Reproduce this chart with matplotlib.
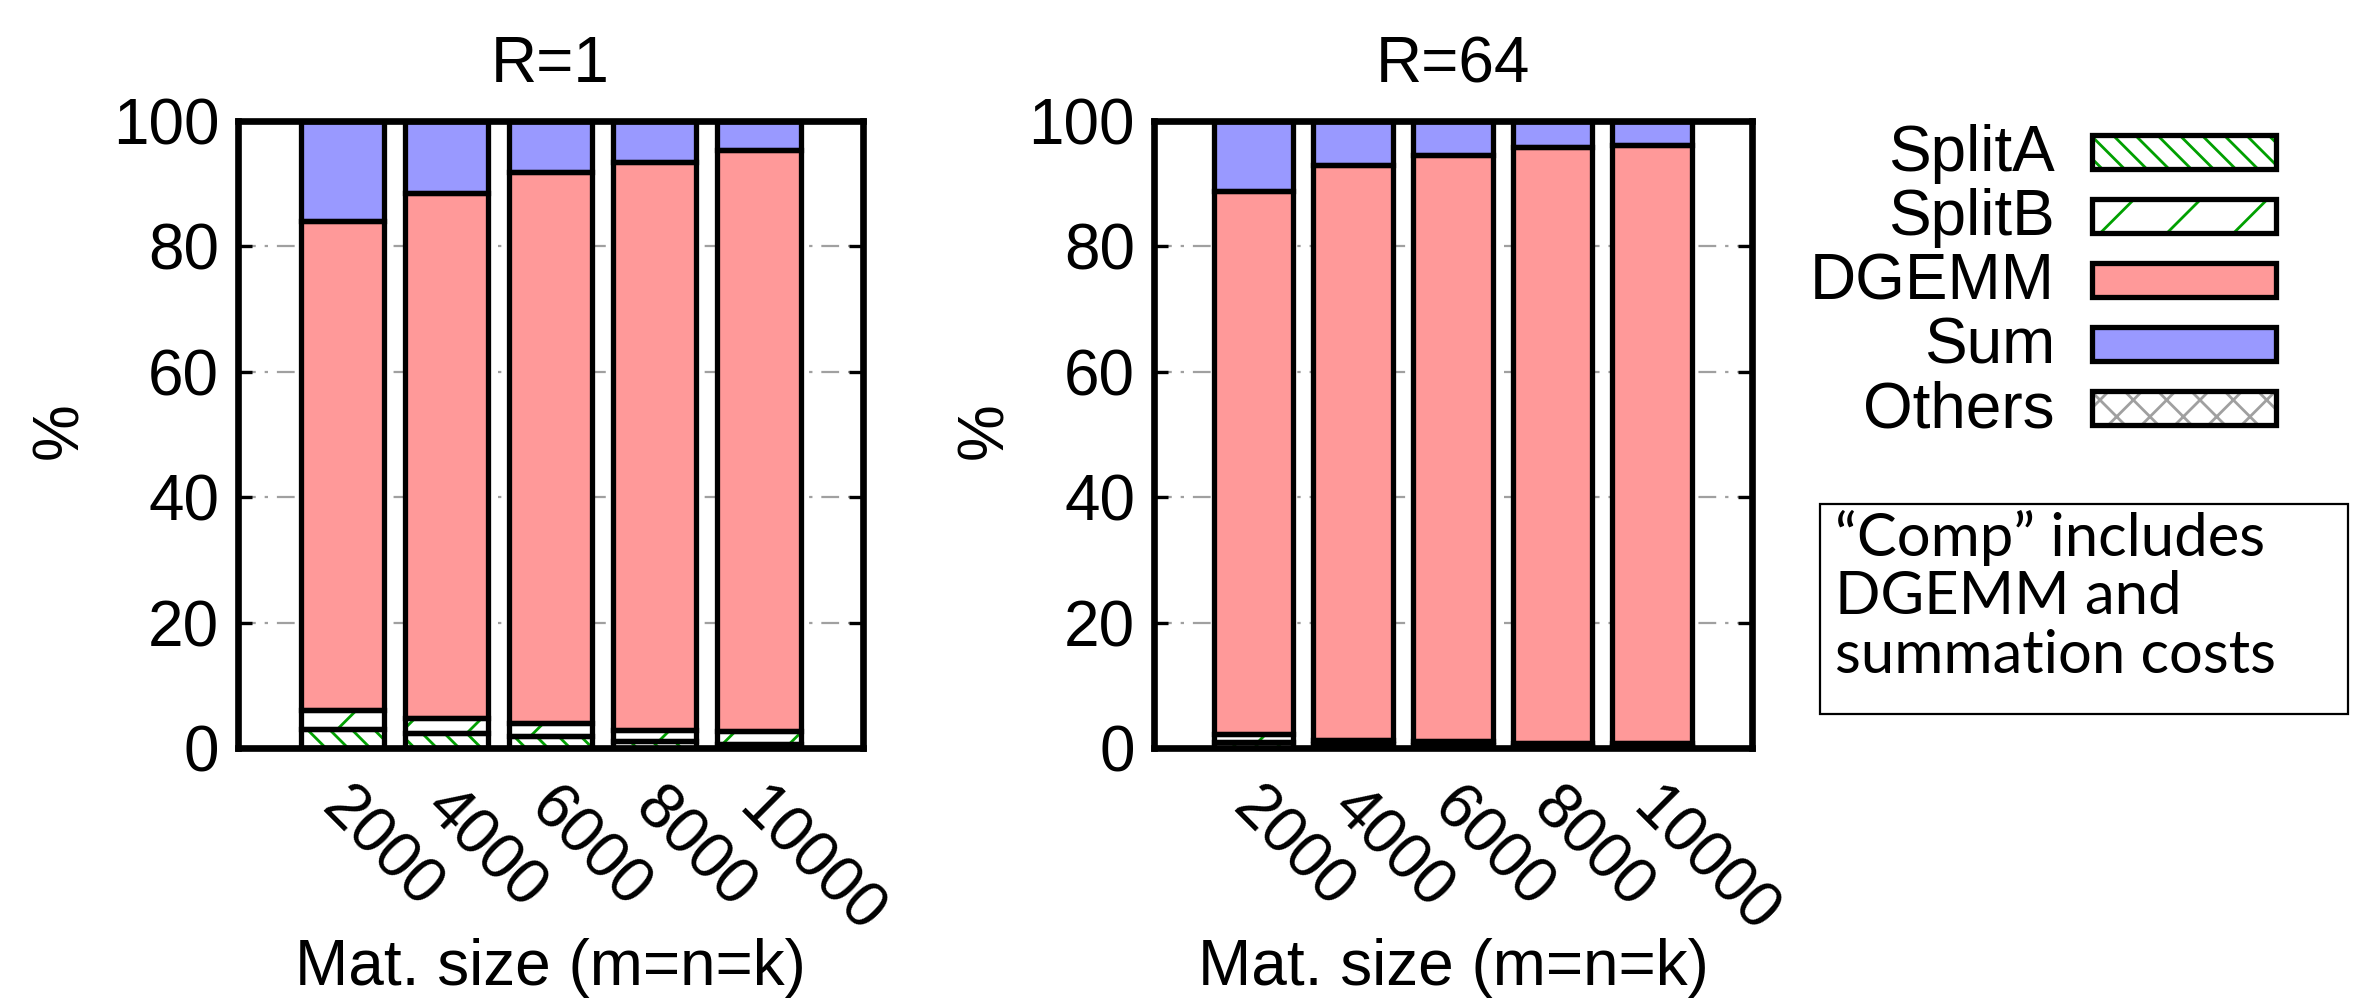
import numpy as np
import matplotlib
matplotlib.use("Agg")
import matplotlib.pyplot as plt
from matplotlib.patches import Rectangle
from matplotlib.transforms import ScaledTranslation

plt.rcParams['font.family'] = ['Liberation Sans', 'DejaVu Sans']
plt.rcParams['hatch.linewidth'] = 1.0

# Data (percent of run time)
sizes = ["2000", "4000", "6000", "8000", "10000"]
series = ["SplitA", "SplitB", "DGEMM", "Sum", "Others"]

r1_splita = [3.0, 2.4, 1.9, 1.2, 0.7]
r1_splitb = [3.1, 2.4, 2.1, 1.7, 2.0]
r1_dgemm = [78.0, 83.8, 87.8, 90.5, 92.6]
r1_sum = [15.9, 11.4, 8.2, 6.6, 4.7]
r1_others = [0.0, 0.0, 0.0, 0.0, 0.0]

r64_splita = [0.9, 0.6, 0.5, 0.4, 0.35]
r64_splitb = [1.3, 0.7, 0.6, 0.45, 0.4]
r64_dgemm = [86.7, 91.7, 93.5, 95.05, 95.45]
r64_sum = [11.1, 7.0, 5.4, 4.1, 3.8]
r64_others = [0.0, 0.0, 0.0, 0.0, 0.0]

panels = [
    ("R=1", [r1_splita, r1_splitb, r1_dgemm, r1_sum, r1_others]),
    ("R=64", [r64_splita, r64_splitb, r64_dgemm, r64_sum, r64_others]),
]

# face colour, hatch, hatch colour
styles = {
    "SplitA": ("white", "\\\\\\", "#00a000"),
    "SplitB": ("white", "/", "#00a000"),
    "DGEMM": ("#ff9999", None, "#ff9999"),
    "Sum": ("#9999ff", None, "#9999ff"),
    "Others": ("white", "xx", "#a0a0a0"),
}

W, H, DPI = 2371, 1001, 200
fig = plt.figure(figsize=(W / DPI, H / DPI), dpi=DPI)

axes_rects = [[0.1004, 0.2527, 0.2636, 0.6264],
              [0.4867, 0.2527, 0.2522, 0.6264]]
fs = 23
edge_lw = 1.9

for rect, (title, data) in zip(axes_rects, panels):
    ax = fig.add_axes(rect)
    x = np.arange(len(sizes))
    bottom = np.zeros(len(sizes))
    for name, vals in zip(series, data):
        face, hatch, hc = styles[name]
        vals = np.array(vals)
        ax.bar(x, vals, 0.8, bottom=bottom, color=face, hatch=hatch,
               edgecolor=hc, linewidth=0, zorder=2)
        ax.bar(x, vals, 0.8, bottom=bottom, fill=False, edgecolor="black",
               linewidth=edge_lw, zorder=3)
        bottom += vals

    ax.set_xlim(-1, 5)
    ax.set_ylim(0, 100)
    ax.set_yticks(range(0, 101, 20))
    ax.yaxis.grid(True, color="#a0a0a0", linewidth=0.8,
                  linestyle=(0, (8, 4, 1.5, 4)), zorder=0)
    ax.set_axisbelow(True)
    ax.tick_params(axis="y", direction="in", length=5, width=1.2,
                   labelsize=fs, pad=6.8, right=True)
    ax.set_xticks(x)
    ax.set_xticklabels(sizes)
    ax.tick_params(axis="x", length=0, labelsize=fs, pad=10.5)
    off = ScaledTranslation(10 / DPI, 0, fig.dpi_scale_trans)
    for lab in ax.get_xticklabels():
        lab.set_rotation(-45)
        lab.set_ha("left")
        lab.set_va("top")
        lab.set_rotation_mode("anchor")
        lab.set_transform(lab.get_transform() + off)
    for sp in ax.spines.values():
        sp.set_linewidth(2.4)
        sp.set_zorder(5)
    ax.set_title(title, fontsize=fs, pad=14)

# overlay in pixel coordinates for labels, legend and note box
lax = fig.add_axes([0, 0, 1, 1])
lax.set_xlim(0, W)
lax.set_ylim(H, 0)
lax.axis("off")

for cx in (550, 1453):
    lax.text(cx, H - 16, "Mat. size (m=n=k)", fontsize=fs, ha="center",
             va="baseline")
for px in (60, 985):
    lax.text(px, 431, "%", fontsize=fs, rotation=90, ha="center",
             va="center")

# legend
row0, step = 152, 64
for i, name in enumerate(series):
    face, hatch, hc = styles[name]
    yc = row0 + i * step
    lax.add_patch(Rectangle((2092, yc - 17), 184, 34, facecolor=face,
                            hatch=hatch, edgecolor=hc, linewidth=0))
    lax.add_patch(Rectangle((2092, yc - 17), 184, 34, fill=False,
                            edgecolor="black", linewidth=edge_lw))
    lax.text(2055, yc + 2, name, fontsize=fs, ha="right", va="center")

# note box
lax.add_patch(Rectangle((1820, 504), 528, 210, fill=False,
                        edgecolor="black", linewidth=0.8))
lax.text(1835, 510, "\u201cComp\u201d includes\nDGEMM and\nsummation costs",
         fontsize=21.5, family=["Lato", "DejaVu Sans"], ha="left",
         va="top", linespacing=1.1)

fig.savefig("out.png", dpi=DPI)
